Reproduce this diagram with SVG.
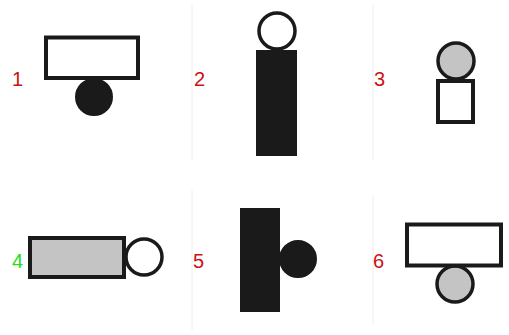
<svg xmlns="http://www.w3.org/2000/svg" width="509" height="335" viewBox="0 0 509 335">
<style>
.lbl{font-family:"Liberation Sans",Arial,sans-serif;font-size:20px;fill:#cc1111}
.g{fill:#22dd22}
.sep{stroke:#eeeeee;stroke-width:1;fill:none}
.ow{fill:#ffffff;stroke:#1a1a1a;stroke-width:4}
.og{fill:#c4c4c4;stroke:#1a1a1a;stroke-width:4}
.bk{fill:#1a1a1a;stroke:#1a1a1a;stroke-width:2}
.cw{fill:#ffffff;stroke:#1a1a1a;stroke-width:3.5}
.cg{fill:#c4c4c4;stroke:#1a1a1a;stroke-width:3.5}
</style>
<rect width="509" height="335" fill="#ffffff"/>
<g id="separators">
<line class="sep" x1="192" y1="5" x2="192" y2="160"/>
<line class="sep" x1="373" y1="5" x2="373" y2="160"/>
<line class="sep" x1="192" y1="190" x2="192" y2="330"/>
<line class="sep" x1="373" y1="195" x2="373" y2="325"/>
</g>
<g id="n1">
<text class="lbl" x="12" y="86">1</text>
<circle class="bk" cx="94" cy="97" r="18"/>
<rect class="ow" x="46" y="37.5" width="92" height="40.5"/>
</g>
<g id="n2">
<text class="lbl" x="194" y="86">2</text>
<circle class="cw" cx="277" cy="31" r="18"/>
<rect class="bk" x="257" y="51" width="39" height="104"/>
</g>
<g id="n3">
<text class="lbl" x="374" y="86">3</text>
<circle class="cg" cx="456" cy="61" r="18"/>
<rect class="ow" x="438" y="81" width="35" height="41"/>
</g>
<g id="n4">
<text class="lbl g" x="12" y="268">4</text>
<circle class="cw" cx="144" cy="257" r="18"/>
<rect class="og" x="30" y="238" width="94" height="39"/>
</g>
<g id="n5">
<text class="lbl" x="193" y="268">5</text>
<circle class="bk" cx="298" cy="259" r="18"/>
<rect class="bk" x="241" y="209" width="38" height="102"/>
</g>
<g id="n6">
<text class="lbl" x="373" y="268">6</text>
<circle class="cg" cx="455" cy="284" r="18"/>
<rect class="ow" x="407" y="224.5" width="94" height="41"/>
</g>
</svg>
